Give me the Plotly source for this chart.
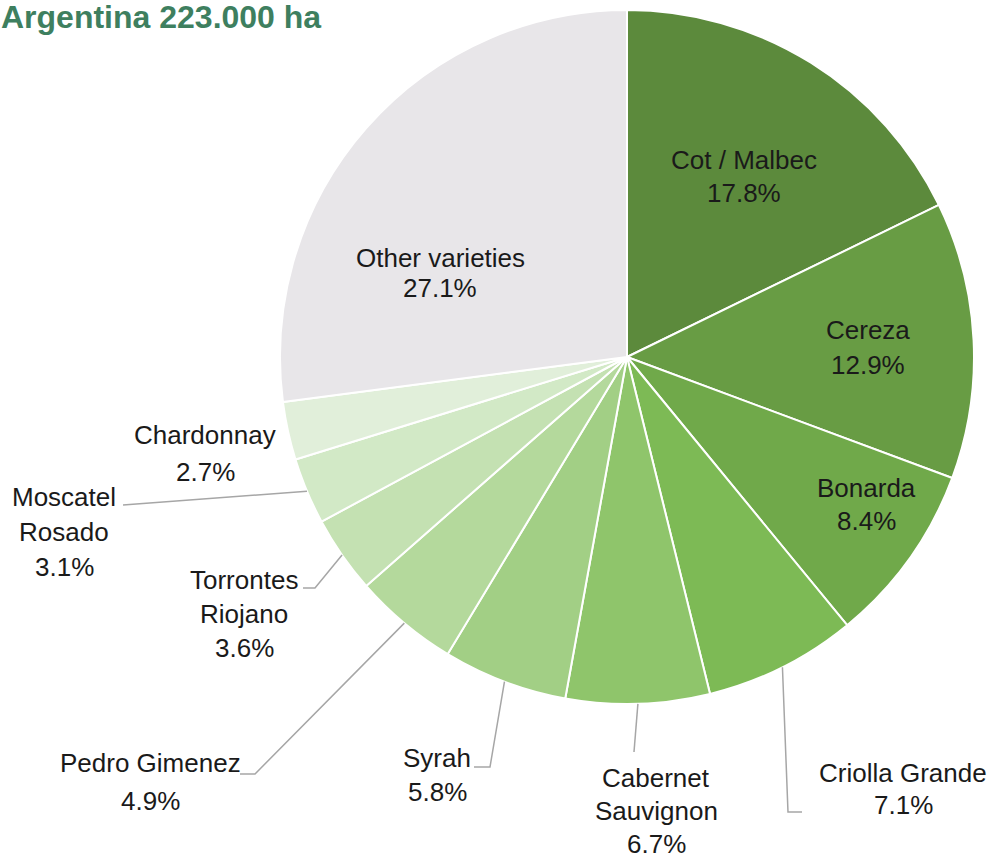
import math
import plotly.graph_objects as go

W, H = 993, 861

# ---- data ----
varieties = ["Cot / Malbec", "Cereza", "Bonarda", "Criolla Grande", "Cabernet Sauvignon",
             "Syrah", "Pedro Gimenez", "Torrontes Riojano", "Moscatel Rosado",
             "Chardonnay", "Other varieties"]
shares = [17.8, 12.9, 8.4, 7.1, 6.7, 5.8, 4.9, 3.6, 3.1, 2.7, 27.1]
label_lines = [["Cot / Malbec"], ["Cereza"], ["Bonarda"], ["Criolla Grande"],
               ["Cabernet", "Sauvignon"], ["Syrah"], ["Pedro Gimenez"],
               ["Torrontes", "Riojano"], ["Moscatel", "Rosado"], ["Chardonnay"],
               ["Other varieties"]]
title_text = "Argentina 223.000 ha"

# ---- style ----
colors = ["#5c8a3c", "#689c44", "#70a94a", "#7dba55", "#8fc56b", "#a2cf85",
          "#b4d99c", "#c4e1b2", "#d2e9c6", "#e1efda", "#e8e6e9"]
# label block: (center x px, first line center y px, line step px)
label_pos = [(744, 160, 33), (868, 330, 35), (866, 488, 33), (903, 773, 32),
             (656, 778, 33), (437, 758, 34), (150, 763, 38), (244, 580, 34),
             (64, 497, 35), (205, 435, 37), (440, 258, 30)]
# leader lines: bend/end points in px (None = no leader)
leaders = [None, None, None, [(788, 812), (802, 812)], [(634, 752)],
           [(490, 767), (474, 767)], [(255, 774), (240, 774)],
           [(315, 588), (303, 588)], [(123, 505)], None, None]

CX, CY, R = 627, 357, 347


def px(x, y):
    return x / W, 1 - y / H


fig = go.Figure(go.Pie(
    labels=varieties, values=shares, sort=False, direction="clockwise", rotation=0,
    marker=dict(colors=colors, line=dict(color="white", width=2)),
    textinfo="none", hoverinfo="label+percent", showlegend=False,
    domain=dict(x=[(CX - R) / W, (CX + R) / W], y=[1 - (CY + R) / H, 1 - (CY - R) / H]),
))

annotations = []
total = sum(shares)
for lines, val, (lx, ly, step) in zip(label_lines, shares, label_pos):
    for i, t in enumerate(lines + [f"{val:.1f}%"]):
        x, y = px(lx, ly + i * step)
        annotations.append(dict(x=x, y=y, xref="paper", yref="paper", text=t,
                                showarrow=False, xanchor="center", yanchor="middle",
                                font=dict(family="Liberation Sans, Arial, sans-serif",
                                          size=26, color="#1a1a1a")))

shapes = []
cum = 0.0
for val, pts in zip(shares, leaders):
    mid = (cum + val / 2) / total * 2 * math.pi
    cum += val
    if pts is None:
        continue
    sx = CX + R * math.sin(mid)
    sy = CY - R * math.cos(mid)
    allp = [(sx, sy)] + pts
    path = ""
    for j, (x, y) in enumerate(allp):
        X, Y = px(x, y)
        path += ("M" if j == 0 else " L") + f" {X:.5f} {Y:.5f}"
    shapes.append(dict(type="path", path=path, xref="paper", yref="paper",
                       line=dict(color="#a6a6a6", width=1.5)))

tx, ty = px(-1, 17)
annotations.append(dict(x=tx, y=ty, xref="paper", yref="paper", text=f"<b>{title_text}</b>",
                        showarrow=False, xanchor="left", yanchor="middle",
                        font=dict(family="Liberation Sans, Arial, sans-serif",
                                  size=32, color="#3e7f5f")))

fig.update_layout(width=W, height=H, margin=dict(l=0, r=0, t=0, b=0),
                  paper_bgcolor="white", plot_bgcolor="white",
                  annotations=annotations, shapes=shapes)

fig.write_html("out.html", config={"displayModeBar": False},
               post_script="document.body.style.margin='0';document.body.style.overflow='hidden';")
